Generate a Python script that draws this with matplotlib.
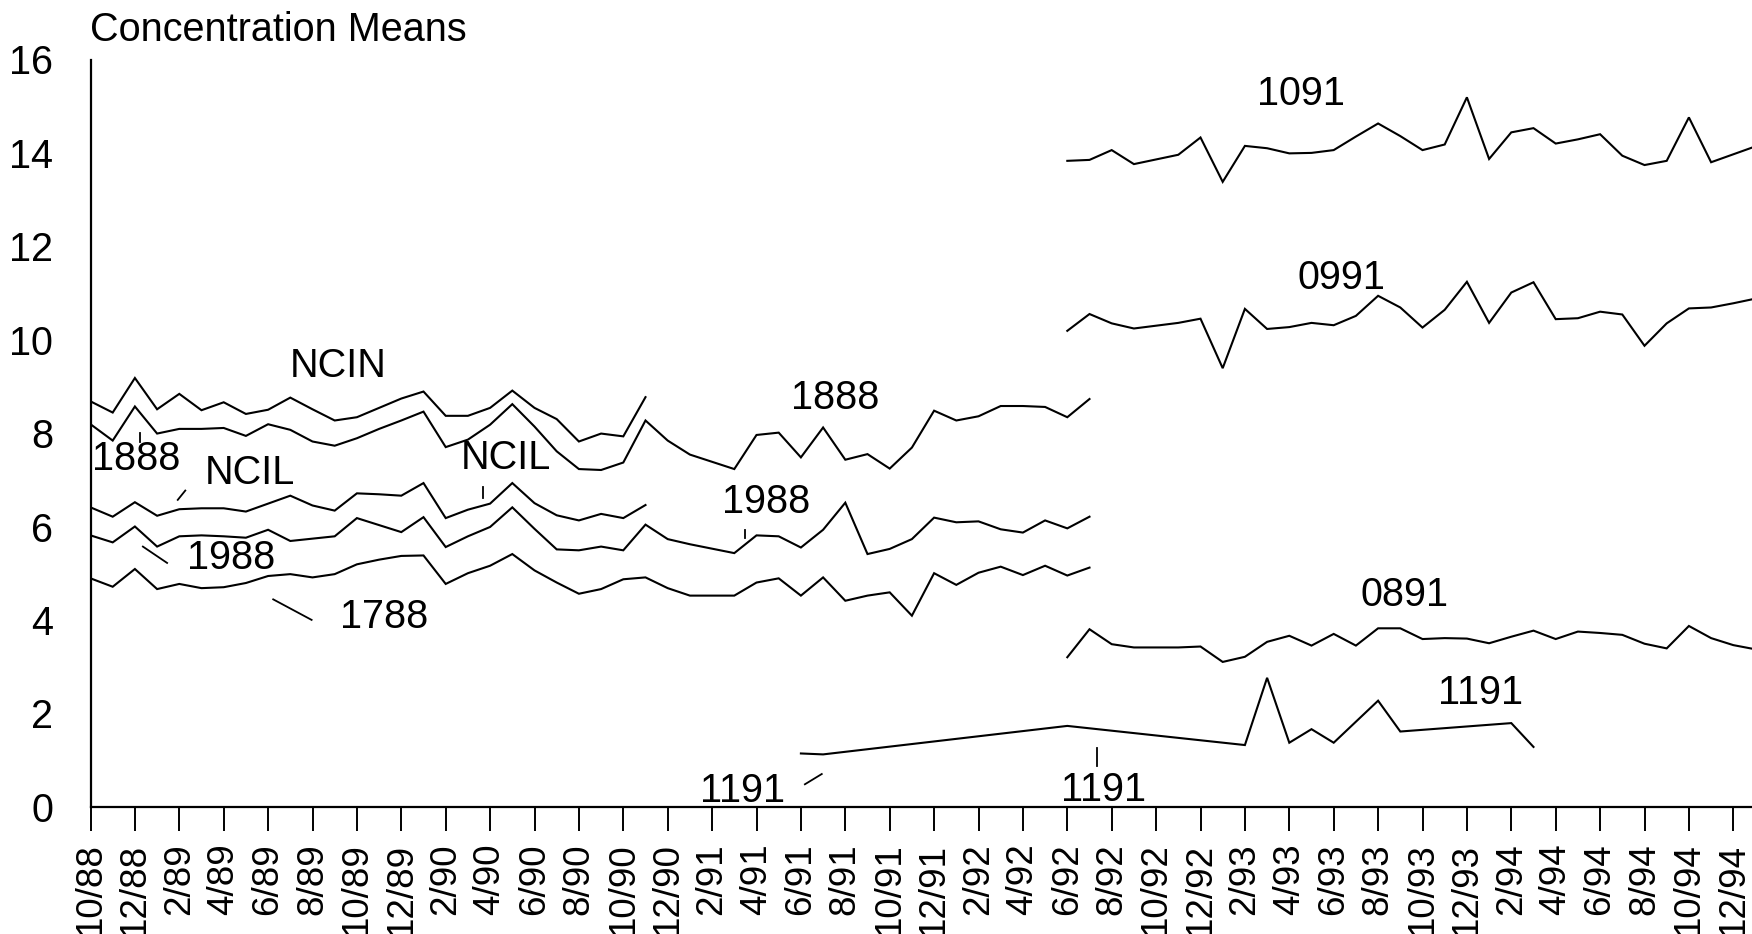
import numpy as np
import pandas as pd
import matplotlib
matplotlib.use("Agg")
import matplotlib.pyplot as plt

plt.rcParams['font.family'] = ['Liberation Sans', 'DejaVu Sans']

# ---- months (x axis): 10/88 ... 1/95 ----
months = pd.period_range('1988-10', periods=76, freq='M')
month_labels = [f"{p.month}/{p.year % 100:02d}" for p in months]
tick_idx = list(range(0, 75, 2))
tick_labels = [month_labels[i] for i in tick_idx]
y_ticks = [0, 2, 4, 6, 8, 10, 12, 14, 16]

N = None
# ---- series values (one value per month starting at start month; None = no data) ----
ncin_start = '10/88'
ncin_values = [8.68, 8.44, 9.18, 8.51, 8.84, 8.49, 8.66, 8.41, 8.50, 8.76, 8.51, 8.27, 8.34,
               8.54, 8.74, 8.89, 8.37, 8.37, 8.54, 8.91, 8.54, 8.30, 7.82, 7.99, 7.93, 8.77]

s1888_start = '10/88'
s1888_values = [8.19, 7.84, 8.57, 7.99, 8.09, 8.09, 8.11, 7.94, 8.19, 8.07, 7.82, 7.73, 7.89,
                8.09, 8.27, 8.46, 7.70, 7.86, 8.18, 8.62, 8.14, 7.61, 7.23, 7.21, 7.37, 8.27,
                7.84, 7.54, N, 7.23, 7.96, 8.01, 7.48, 8.12, 7.43, 7.55, 7.24, 7.69, 8.48,
                8.27, 8.36, 8.58, 8.58, 8.56, 8.34, 8.73]

ncil_start = '10/88'
ncil_values = [6.41, 6.21, 6.52, 6.23, 6.37, 6.39, 6.39, 6.32, 6.49, 6.66, 6.45, 6.34, 6.71,
               6.69, 6.66, 6.93, 6.18, 6.36, 6.49, 6.93, 6.50, 6.24, 6.13, 6.27, 6.18, 6.46]

s1988_start = '10/88'
s1988_values = [5.81, 5.66, 6.00, 5.57, 5.79, 5.81, 5.79, 5.76, 5.93, 5.69, 5.74, 5.79, 6.18,
                6.03, 5.88, 6.20, 5.56, 5.79, 5.99, 6.41, 5.95, 5.51, 5.49, 5.57, 5.49, 6.04,
                5.73, 5.62, N, 5.43, 5.81, 5.79, 5.55, 5.93, 6.51, 5.41, 5.52, 5.73, 6.19,
                6.09, 6.11, 5.94, 5.87, 6.13, 5.96, 6.21]

s1788_start = '10/88'
s1788_values = [4.89, 4.71, 5.09, 4.66, 4.77, 4.68, 4.70, 4.79, 4.94, 4.98, 4.91, 4.98, 5.19,
                5.29, 5.37, 5.38, 4.77, 5.00, 5.16, 5.41, 5.06, 4.80, 4.56, 4.66, 4.87, 4.91,
                4.68, 4.52, N, 4.52, 4.80, 4.89, 4.52, 4.91, 4.41, 4.52, 4.59, 4.09, 5.00,
                4.75, 5.01, 5.14, 4.96, 5.16, 4.95, 5.12]

s1091_start = '6/92'
s1091_values = [13.83, 13.85, 14.06, 13.76, 13.86, 13.96, 14.33, 13.38, 14.15, 14.10, 13.99,
                14.00, 14.06, 14.35, 14.63, 14.36, 14.06, 14.18, 15.19, 13.87, 14.44, 14.53,
                14.20, 14.29, 14.40, 13.94, 13.74, 13.83, 14.76, 13.80, 13.97, 14.14]

s0991_start = '6/92'
s0991_values = [10.19, 10.55, 10.35, 10.24, 10.30, 10.36, 10.45, 9.39, 10.66, 10.23, 10.27,
                10.36, 10.31, 10.51, 10.94, 10.69, 10.26, 10.64, 11.24, 10.36, 11.01, 11.23,
                10.44, 10.46, 10.60, 10.54, 9.87, 10.35, 10.67, 10.69, 10.78, 10.88]

s0891_start = '6/92'
s0891_values = [3.20, 3.80, 3.48, 3.41, 3.41, 3.41, 3.43, 3.10, 3.21, 3.53, 3.66, 3.45, 3.70,
                3.45, 3.82, 3.82, 3.59, 3.61, 3.60, 3.50, 3.64, 3.77, 3.59, 3.75, 3.72, 3.68,
                3.49, 3.39, 3.87, 3.61, 3.46, 3.37]

s1191_months = ['6/91', '7/91', '6/92', '2/93', '3/93', '4/93', '5/93', '6/93', '8/93',
                '9/93', '2/94', '3/94']
s1191_values = [1.14, 1.12, 1.73, 1.32, 2.76, 1.37, 1.66, 1.37, 2.27, 1.61, 1.79, 1.28]

# ---- labels: (text, month position, baseline value) ----
label_text = ['NCIN', '1888', 'NCIL', '1988', '1788', 'NCIL', '1888', '1988',
              '1091', '0991', '0891', '1191', '1191', '1191']
label_x = [11.17, 2.05, 7.19, 6.33, 13.22, 18.72, 33.53, 30.43,
           54.53, 56.33, 59.17, 62.63, 45.61, 29.35]
label_y = [9.20, 7.20, 6.91, 5.09, 3.83, 7.23, 8.51, 6.29,
           15.03, 11.09, 4.30, 2.20, 0.12, 0.10]
# leader marks: (x0, x1, y0, y1)
leaders = [(2.25, 2.25, 8.00, 7.80), (3.93, 4.27, 6.57, 6.77), (2.36, 3.45, 5.57, 5.22),
           (8.23, 9.96, 4.44, 4.00), (17.68, 17.68, 6.84, 6.62), (29.48, 29.48, 5.93, 5.75),
           (45.33, 45.33, 1.25, 0.88), (32.18, 32.94, 0.48, 0.70)]

idx_of = {lab: i for i, lab in enumerate(month_labels)}


def series_xy(start, values):
    s = idx_of[start]
    xs = [s + i for i, v in enumerate(values) if v is not None]
    ys = [v for v in values if v is not None]
    return xs, ys


fig = plt.figure(figsize=(17.52, 9.34), dpi=100)
ax = fig.add_axes([90.5 / 1752, (934 - 806.7) / 934, 75 * 22.2 / 1752, 16 * 46.7 / 934])

LW = 1.5
for start, vals in [(ncin_start, ncin_values), (s1888_start, s1888_values),
                    (ncil_start, ncil_values), (s1988_start, s1988_values),
                    (s1788_start, s1788_values), (s1091_start, s1091_values),
                    (s0991_start, s0991_values), (s0891_start, s0891_values)]:
    xs, ys = series_xy(start, vals)
    ax.plot(xs, ys, color='black', lw=LW, solid_joinstyle='miter')

ax.plot([idx_of[m] for m in s1191_months], s1191_values, color='black', lw=LW,
        solid_joinstyle='miter')

for (x0, x1, y0, y1) in leaders:
    ax.plot([x0, x1], [y0, y1], color='black', lw=1.3)

for t, x, y in zip(label_text, label_x, label_y):
    ax.text(x, y, t, fontsize=28.5, ha='center', va='baseline', color='black')

ax.set_xlim(0, 75)
ax.set_ylim(0, 16)
ax.spines['top'].set_visible(False)
ax.spines['right'].set_visible(False)
ax.spines['left'].set_linewidth(1.6)
ax.spines['bottom'].set_linewidth(1.6)

ax.set_xticks(tick_idx)
ax.set_xticklabels(tick_labels, rotation=90, fontsize=26.5)
ax.tick_params(axis='x', length=17, width=1.4, pad=9.5, direction='out')
ax.set_yticks(y_ticks)
ax.set_yticklabels([str(v) for v in y_ticks], fontsize=28.5)
ax.tick_params(axis='y', length=0, pad=27)

fig.text(90 / 1752, 1 - 41 / 934, 'Concentration Means', fontsize=28.5, ha='left',
         va='baseline')

fig.savefig('out.png', dpi=100)
